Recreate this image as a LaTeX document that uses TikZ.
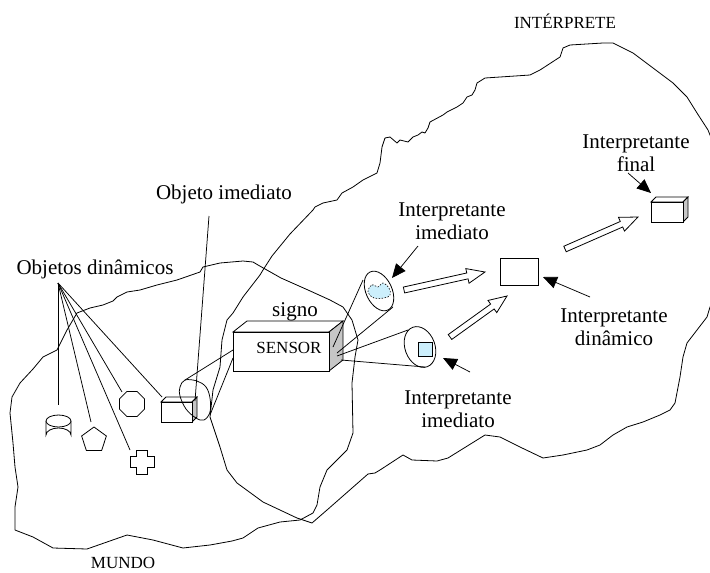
\documentclass[tikz,border=0pt]{standalone}
\usepackage{fontspec}
\setmainfont{Liberation Serif}
\usetikzlibrary{calc,arrows.meta,shapes.geometric}
\newcommand\blockarr[2]{%
\path[barrow] let \p1=(#1),\p2=(#2),\n1={atan2(\y2-\y1,\x2-\x1)},\n2={veclen(\x2-\x1,\y2-\y1)-18},\n3={\n1+90},\n4={\n1-90} in
 ($(\p1)+(\n3:3pt)$) -- ($(\p1)+(\n1:\n2)+(\n3:3pt)$) -- ($(\p1)+(\n1:\n2)+(\n3:7.5pt)$) -- (\p2)
 -- ($(\p1)+(\n1:\n2)+(\n4:7.5pt)$) -- ($(\p1)+(\n1:\n2)+(\n4:3pt)$) -- ($(\p1)+(\n4:3pt)$) -- cycle;}
\begin{document}
\begin{tikzpicture}[x=1pt,y=-1pt,
  lbl/.style={font=\fontsize{21}{23}\selectfont, align=center, inner sep=0pt},
  small/.style={font=\fontsize{17}{19}\selectfont, inner sep=0pt},
  blob/.style={draw, line width=0.8pt, line join=round},
  ln/.style={line width=0.75pt},
  ptr/.style={line width=0.75pt, -{Triangle[length=14pt,width=12pt]}},
  barrow/.style={draw, fill=white, line width=0.8pt, line join=miter},
  shp/.style={draw, line width=0.8pt, fill=white, line join=miter},
  face/.style={draw, line width=0.8pt, fill=gray!45, line join=miter}
]
\useasboundingbox (0,0) rectangle (710,573);
\clip (0,0) rectangle (710,573);

% MUNDO blob
\draw[blob] (10,413) -- (12,397) -- (20,383) -- (33,369) -- (43,357) -- (57,350) -- (67,330) -- (77,313) -- (90,308) -- (103,305) -- (113,301) -- (117,297) -- (127,292) -- (140,290) -- (157,285) -- (177,280) -- (200,272) -- (203,267) -- (220,263) -- (243,261) -- (253,262) -- (258,265) -- (281,278) -- (308,290) -- (330,300) -- (343,307) -- (352,320) -- (358,340) -- (355,357) -- (352,383) -- (353,433) -- (347,450) -- (337,460) -- (327,470) -- (320,487) -- (317,505) -- (313,513) -- (300,520) -- (280,522) -- (258,528) -- (243,538) -- (232,541) -- (210,545) -- (183,548) -- (153,540) -- (127,535) -- (107,542) -- (87,549) -- (53,548) -- (33,537) -- (15,530) -- (15,507) -- (18,487) -- (15,467) -- (13,443) -- cycle;

% INTERPRETE blob
\draw[blob] (312,523) -- (297,518) -- (263,502) -- (237,483) -- (227,470) -- (220,447) -- (210,417) -- (213,390) -- (220,367) -- (222,340) -- (227,320) -- (233,313) -- (243,297) -- (260,275) -- (263,270) -- (272,256) -- (290,234) -- (313,210) -- (315,207) -- (323,203) -- (337,200) -- (342,193) -- (353,187) -- (363,180) -- (377,173) -- (380,163) -- (382,147) -- (385,138) -- (390,137) -- (397,143) -- (400,140) -- (408,142) -- (413,137) -- (418,135) -- (422,132) -- (425,133) -- (428,128) -- (430,122) -- (443,115) -- (447,112) -- (457,107) -- (463,103) -- (467,97) -- (472,95) -- (475,90) -- (477,83) -- (485,78) -- (530,75) -- (540,70) -- (560,57) -- (563,48) -- (570,45) -- (603,43) -- (613,43) -- (633,53) -- (653,68) -- (673,83) -- (687,97) -- (697,113) -- (708,130) -- (716,150) -- (716,300) -- (710,307) -- (707,317) -- (697,330) -- (687,343) -- (683,357) -- (680,377) -- (675,403) -- (670,410) -- (660,415) -- (643,422) -- (627,427) -- (613,435) -- (600,445) -- (587,450) -- (563,455) -- (543,458) -- (520,447) -- (500,437) -- (485,435) -- (448,458) -- (437,461) -- (412,460) -- (403,455) -- (380,470) -- (375,473) -- (368,474) -- (327,510) -- cycle;

% labels
\node[small] (interp) at (565,21) {INTÉRPRETE};
\node[small] (mundo) at (123,563) {MUNDO};
\node[lbl] (objdin) at (95,269) {Objetos dinâmicos};
\node[lbl] (objim) at (224,194) {Objeto imediato};
\node[lbl] (signo) at (295,312) {signo};
\node[lbl] (iimtop) at (452,221) {Interpretante\\imediato};
\node[lbl] (ifinal) at (636,153) {Interpretante\\final};
\node[lbl] (idin) at (614,327) {Interpretante\\dinâmico};
\node[lbl] (iimbot) at (458,409) {Interpretante\\imediato};

% connector points
\coordinate (hub) at (58,283);
\coordinate (cyltop) at (58,405);
\coordinate (penttop) at (91,422);
\coordinate (crosstop) at (130,450);
\coordinate (octtop) at (122,392);
\coordinate (boxtop) at (162,397);
\coordinate (oistart) at (209,216);
\coordinate (oiend) at (195,401);

\draw[ln] (hub) -- (cyltop);
\draw[ln] (hub) -- (penttop);
\draw[ln] (hub) -- (crosstop);
\draw[ln] (hub) -- (octtop);
\draw[ln] (hub) -- (boxtop);

% cylinder
\draw[shp] (46,421) -- (46,435) arc[start angle=180, end angle=360, x radius=12.5, y radius=7] -- (71,421);
\draw[shp] (58.5,421) ellipse [x radius=12.5, y radius=6];
% pentagon
\node[regular polygon, regular polygon sides=5, shp, minimum size=26pt, inner sep=0pt] (pent) at (94,440) {};
% octagon
\node[regular polygon, regular polygon sides=8, shp, minimum size=27pt, inner sep=0pt] (oct) at (132,404) {};
% cross
\draw[shp] (136.5,450) -- (147.5,450) -- (147.5,456.5) -- (154,456.5) -- (154,467.5) -- (147.5,467.5) -- (147.5,474) -- (136.5,474) -- (136.5,467.5) -- (130,467.5) -- (130,456.5) -- (136.5,456.5) -- cycle;

% small box (objeto imediato)
\draw[shp] (161,402) -- (166,397) -- (197,397) -- (192,402) -- cycle;
\draw[face] (192,402) -- (197,397) -- (197,417) -- (192,422) -- cycle;
\draw[shp] (161,402) rectangle (192,422);

% lens around small box
\draw[ln] plot[smooth cycle, tension=0.6] coordinates {(185,380) (197,381) (206,387) (210,398) (210,412) (204,420) (196,418) (186,409) (180,396) (180,387)};
\draw[ln] (oistart) -- (oiend);

% SENSOR box
\draw[shp] (233,332) -- (247,321) -- (343,321) -- (329,332) -- cycle;
\draw[face] (329,332) -- (343,321) -- (343,360) -- (329,371) -- cycle;
\node[shp, minimum width=96pt, minimum height=39pt, inner sep=0pt, anchor=north west] (sensor) at (233,332) {};
\node[small] (sensortxt) at (289,348) {SENSOR};

\coordinate (lensA) at (185,380);
\coordinate (lensB) at (210,415);
\coordinate (sA) at (233,350);
\coordinate (sB) at (233,358);
\draw[ln] (lensA) -- (sA);
\draw[ln] (lensB) -- (sB);

% top ellipse (interpretante imediato)
\node[ellipse, draw, line width=0.8pt, minimum width=26pt, minimum height=42pt, inner sep=0pt, rotate=25] (e1) at (379,291) {};
\draw[draw=black, fill=cyan!20, line width=0.6pt, dash pattern=on 1.5pt off 1.5pt] plot[smooth cycle, tension=0.7] coordinates {(368,292) (372,285) (378,287) (383,283) (389,288) (390,295) (384,298) (374,298)};
% lower ellipse
\node[ellipse, draw, line width=0.8pt, minimum width=30pt, minimum height=42pt, inner sep=0pt, rotate=20] (e2) at (420,347) {};
\node[draw, line width=0.8pt, fill=cyan!20, minimum size=14pt, inner sep=0pt] (sq) at (425.5,349) {};

% cone lines
\coordinate (r1) at (333,347);
\coordinate (r2) at (337,353);
\coordinate (r3) at (337,356);
\coordinate (r4) at (341,360);
\coordinate (e1a) at (363,280);
\coordinate (e1b) at (393,307);
\coordinate (e2a) at (408,330);
\coordinate (e2b) at (425,367);
\draw[ln] (r1) -- (e1a);
\draw[ln] (r2) -- (e1b);
\draw[ln] (r3) -- (e2a);
\draw[ln] (r4) -- (e2b);

% dynamic interpretant rectangle
\node[shp, minimum width=38pt, minimum height=27pt, inner sep=0pt] (dyn) at (519,271.5) {};

% final box
\draw[shp] (651,202) -- (656,197) -- (688,197) -- (683,202) -- cycle;
\draw[face] (683,202) -- (688,197) -- (688,217) -- (683,222) -- cycle;
\node[shp, minimum width=32pt, minimum height=20pt, inner sep=0pt, anchor=north west] (fin) at (651,202) {};

% pointer arrows
\coordinate (p1s) at (418,246);
\coordinate (p1e) at (392,278);
\coordinate (p2s) at (470,372);
\coordinate (p2e) at (443,358);
\coordinate (p3s) at (590,297);
\coordinate (p3e) at (543,277);
\coordinate (p4s) at (628,173);
\coordinate (p4e) at (651,193);
\draw[ptr] (p1s) -- (p1e);
\draw[ptr] (p2s) -- (p2e);
\draw[ptr] (p3s) -- (p3e);
\draw[ptr] (p4s) -- (p4e);

% block arrows
\coordinate (b1s) at (404,290);
\coordinate (b1e) at (485,272);
\coordinate (b2s) at (450,337);
\coordinate (b2e) at (507,296);
\coordinate (b3s) at (565,249);
\coordinate (b3e) at (638,217);
\blockarr{b1s}{b1e}
\blockarr{b2s}{b2e}
\blockarr{b3s}{b3e}
\end{tikzpicture}
\end{document}
